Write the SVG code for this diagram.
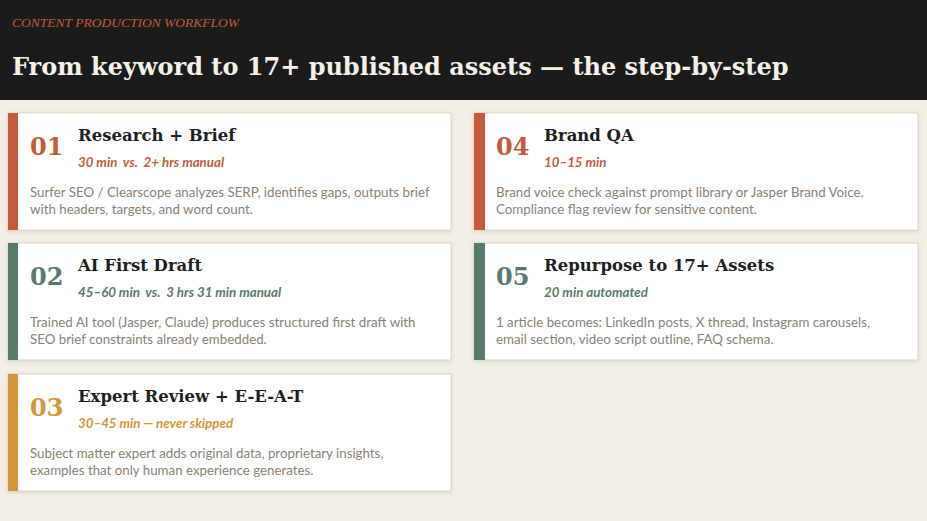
<svg xmlns="http://www.w3.org/2000/svg" width="927" height="521" viewBox="0 0 927 521">
<defs>
<filter id="sh" x="-5%" y="-10%" width="110%" height="125%">
<feDropShadow dx="0" dy="1.5" stdDeviation="2" flood-color="#6b5a40" flood-opacity="0.18"/>
</filter>
<style>
.card{fill:#ffffff;stroke:#ddd3c2;stroke-width:1}
.num{font-family:"DejaVu Serif","Liberation Serif",serif;font-weight:bold;font-size:24px}
.ttl{font-family:"DejaVu Serif","Liberation Serif",serif;font-weight:bold;font-size:16.5px;fill:#1e1e1e}
.sub{font-family:Lato,"Liberation Sans",sans-serif;font-weight:bold;font-style:italic;font-size:13.3px;white-space:pre}
.body{font-family:Lato,"Liberation Sans",sans-serif;font-size:13.3px;fill:#8c8174}
.o{fill:#c45c3c}.g{fill:#587a68}.y{fill:#d4963a}
</style>
</defs>
<rect x="0" y="0" width="927" height="521" fill="#f3efe8"/>
<g id="header">
<rect x="0" y="0" width="927" height="100" fill="#1b1b1b"/>
<text x="12" y="27" font-family="Liberation Serif,serif" font-style="italic" font-size="13.5" fill="#c45c3c">CONTENT PRODUCTION WORKFLOW</text>
<text x="12" y="75" font-family="DejaVu Serif,Liberation Serif,serif" font-weight="bold" font-size="24" fill="#f5f0e8">From keyword to 17+ published assets — the step-by-step</text>
</g>
<g id="step01" transform="translate(8,113)">
<rect class="card" x="0" y="0" width="443" height="117" filter="url(#sh)"/>
<rect x="0" y="0" width="10" height="117" class="o"/>
<text class="num o" x="22" y="42">01</text>
<text class="ttl" x="70" y="28">Research + Brief</text>
<text class="sub o" x="70" y="54" xml:space="preserve">30 min  vs.  2+ hrs manual</text>
<text class="body" x="22" y="84">Surfer SEO / Clearscope analyzes SERP, identifies gaps, outputs brief</text>
<text class="body" x="22" y="101">with headers, targets, and word count.</text>
</g>
<g id="step02" transform="translate(8,243)">
<rect class="card" x="0" y="0" width="443" height="117" filter="url(#sh)"/>
<rect x="0" y="0" width="10" height="117" class="g"/>
<text class="num g" x="22" y="42">02</text>
<text class="ttl" x="70" y="28">AI First Draft</text>
<text class="sub g" x="70" y="54" xml:space="preserve">45–60 min  vs.  3 hrs 31 min manual</text>
<text class="body" x="22" y="84">Trained AI tool (Jasper, Claude) produces structured first draft with</text>
<text class="body" x="22" y="101">SEO brief constraints already embedded.</text>
</g>
<g id="step03" transform="translate(8,374)">
<rect class="card" x="0" y="0" width="443" height="117" filter="url(#sh)"/>
<rect x="0" y="0" width="10" height="117" class="y"/>
<text class="num y" x="22" y="42">03</text>
<text class="ttl" x="70" y="28">Expert Review + E-E-A-T</text>
<text class="sub y" x="70" y="54">30–45 min — never skipped</text>
<text class="body" x="22" y="84">Subject matter expert adds original data, proprietary insights,</text>
<text class="body" x="22" y="101">examples that only human experience generates.</text>
</g>
<g id="step04" transform="translate(474,113)">
<rect class="card" x="0" y="0" width="444" height="117" filter="url(#sh)"/>
<rect x="0" y="0" width="11" height="117" class="o"/>
<text class="num o" x="22" y="42">04</text>
<text class="ttl" x="70" y="28">Brand QA</text>
<text class="sub o" x="70" y="54">10–15 min</text>
<text class="body" x="22" y="84">Brand voice check against prompt library or Jasper Brand Voice.</text>
<text class="body" x="22" y="101">Compliance flag review for sensitive content.</text>
</g>
<g id="step05" transform="translate(474,243)">
<rect class="card" x="0" y="0" width="444" height="117" filter="url(#sh)"/>
<rect x="0" y="0" width="11" height="117" class="g"/>
<text class="num g" x="22" y="42">05</text>
<text class="ttl" x="70" y="28">Repurpose to 17+ Assets</text>
<text class="sub g" x="70" y="54">20 min automated</text>
<text class="body" x="22" y="84">1 article becomes: LinkedIn posts, X thread, Instagram carousels,</text>
<text class="body" x="22" y="101">email section, video script outline, FAQ schema.</text>
</g>
<g id="connectors"/>
</svg>
